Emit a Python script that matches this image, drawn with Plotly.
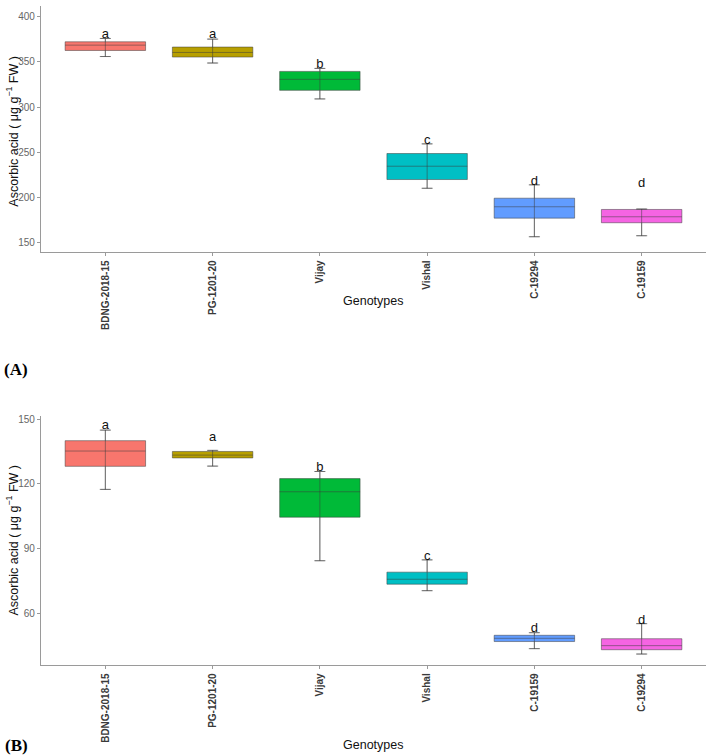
import plotly.graph_objects as go

# ---------------- Data ----------------
# Panel A
cats_a = ["BDNG-2018-15", "PG-1201-20", "Vijay", "Vishal", "C-19294", "C-19159"]
q1_a = [362.7, 355.4, 318.5, 219.7, 176.9, 171.8]
med_a = [368.6, 360.5, 330.7, 234.4, 189.5, 178.4]
q3_a = [372.3, 366.5, 339.5, 248.5, 199.0, 186.5]
lo_a = [356.0, 348.8, 309.0, 210.0, 156.3, 157.4]
hi_a = [376.0, 375.3, 342.8, 259.2, 213.8, 187.0]
letters_a = ["a", "a", "b", "c", "d", "d"]
letter_y_a = [380.0, 380.0, 346.6, 262.5, 217.5, 214.5]

# Panel B
cats_b = ["BDNG-2018-15", "PG-1201-20", "Vijay", "Vishal", "C-19159", "C-19294"]
q1_b = [128.1, 132.0, 104.5, 73.4, 46.8, 43.0]
med_b = [135.2, 133.3, 116.3, 75.7, 48.3, 44.9]
q3_b = [140.0, 135.0, 122.4, 79.0, 49.7, 48.1]
lo_b = [117.4, 128.2, 84.3, 70.4, 43.5, 41.0]
hi_b = [144.9, 135.5, 125.7, 84.7, 50.9, 55.1]
letters_b = ["a", "a", "b", "c", "d", "d"]
letter_y_b = [146.8, 141.5, 127.3, 86.3, 52.6, 56.6]

colors_a = ["#F8766D", "#B79F00", "#00BA38", "#00BFC4", "#619CFF", "#F564E3"]
colors_b = ["#F8766D", "#B79F00", "#00BA38", "#00BFC4", "#619CFF", "#F564E3"]

yticks_a = [150, 200, 250, 300, 350, 400]
yticks_b = [60, 90, 120, 150]

W, H = 708, 756


def px(x):
    return x / W


def py(y):
    return 1 - y / H


fig = go.Figure()


def add_panel(cats, q1, med, q3, lo, hi, letters, ly, colors, xa, ya):
    for i, c in enumerate(cats):
        fig.add_trace(go.Box(
            x=[c], q1=[q1[i]], median=[med[i]], q3=[q3[i]],
            lowerfence=[lo[i]], upperfence=[hi[i]],
            width=0.75, whiskerwidth=0.14,
            fillcolor=colors[i],
            line=dict(color="rgba(60,60,60,0.5)", width=1),
            boxpoints=False, showlegend=False, hoverinfo="skip",
            xaxis=xa, yaxis=ya,
        ))
    # whisker line through the box with caps (errorbar)
    fig.add_trace(go.Scatter(
        x=cats, y=med, mode="markers",
        marker=dict(size=1, color="rgba(0,0,0,0)"),
        error_y=dict(type="data", symmetric=False,
                     array=[h - m for h, m in zip(hi, med)],
                     arrayminus=[m - l for m, l in zip(med, lo)],
                     color="rgba(60,60,60,0.5)", thickness=1, width=5),
        showlegend=False, hoverinfo="skip", xaxis=xa, yaxis=ya,
    ))
    fig.add_trace(go.Scatter(
        x=cats, y=ly, mode="text", text=letters,
        textfont=dict(family="Liberation Sans, Arial", size=13, color="#111"),
        showlegend=False, hoverinfo="skip", xaxis=xa, yaxis=ya,
    ))


add_panel(cats_a, q1_a, med_a, q3_a, lo_a, hi_a, letters_a, letter_y_a, colors_a, "x", "y")
add_panel(cats_b, q1_b, med_b, q3_b, lo_b, hi_b, letters_b, letter_y_b, colors_b, "x2", "y2")

xdom = [px(41), px(706)]
axis_common = dict(
    showline=True, linecolor="#9a9a9a", linewidth=1.2,
    ticks="outside", ticklen=3, tickcolor="#9a9a9a",
    showgrid=False, zeroline=False,
)
xcommon = dict(axis_common, type="category", range=[-0.6, 5.6], tickangle=-90,
               tickfont=dict(family="Liberation Sans, Arial", size=10, color="#3a3a3a",
                             weight="bold"))
ycommon = dict(axis_common,
               tickfont=dict(family="Liberation Sans, Arial", size=10, color="#666666"))

fig.update_layout(
    width=W, height=H,
    margin=dict(l=0, r=0, t=0, b=0),
    paper_bgcolor="white", plot_bgcolor="white",
    showlegend=False,
    xaxis=dict(xcommon, domain=xdom, anchor="y", categoryorder="array", categoryarray=cats_a),
    yaxis=dict(ycommon, domain=[py(251), py(4)], anchor="x",
               range=[139, 412], tickvals=yticks_a),
    xaxis2=dict(xcommon, domain=xdom, anchor="y2", categoryorder="array", categoryarray=cats_b),
    yaxis2=dict(ycommon, domain=[py(665), py(415)], anchor="x2",
                range=[35.8, 151.5], tickvals=yticks_b),
)

ytitle = "Ascorbic acid ( μg g<sup>−1</sup> FW )"
ann_font = dict(family="Liberation Sans, Arial", size=12.5, color="#111")
common_ann = dict(xref="paper", yref="paper", showarrow=False,
                  xanchor="center", yanchor="middle")
fig.add_annotation(text=ytitle, x=px(12), y=py(130), textangle=-90, font=ann_font, **common_ann)
fig.add_annotation(text=ytitle, x=px(12), y=py(540), textangle=-90, font=ann_font, **common_ann)
fig.add_annotation(text="Genotypes", x=px(373), y=py(300), font=ann_font, **common_ann)
fig.add_annotation(text="Genotypes", x=px(373), y=py(745), font=ann_font, **common_ann)
serif = dict(family="Liberation Serif, Times New Roman", size=17, color="#000", weight="bold")
fig.add_annotation(text="(A)", x=px(16), y=py(368), font=serif, **common_ann)
fig.add_annotation(text="(B)", x=px(16), y=py(745), font=serif, **common_ann)

fig.write_html(
    "out.html",
    config={"displayModeBar": False},
    post_script="document.body.style.margin='0px';document.body.style.padding='0px';",
)
